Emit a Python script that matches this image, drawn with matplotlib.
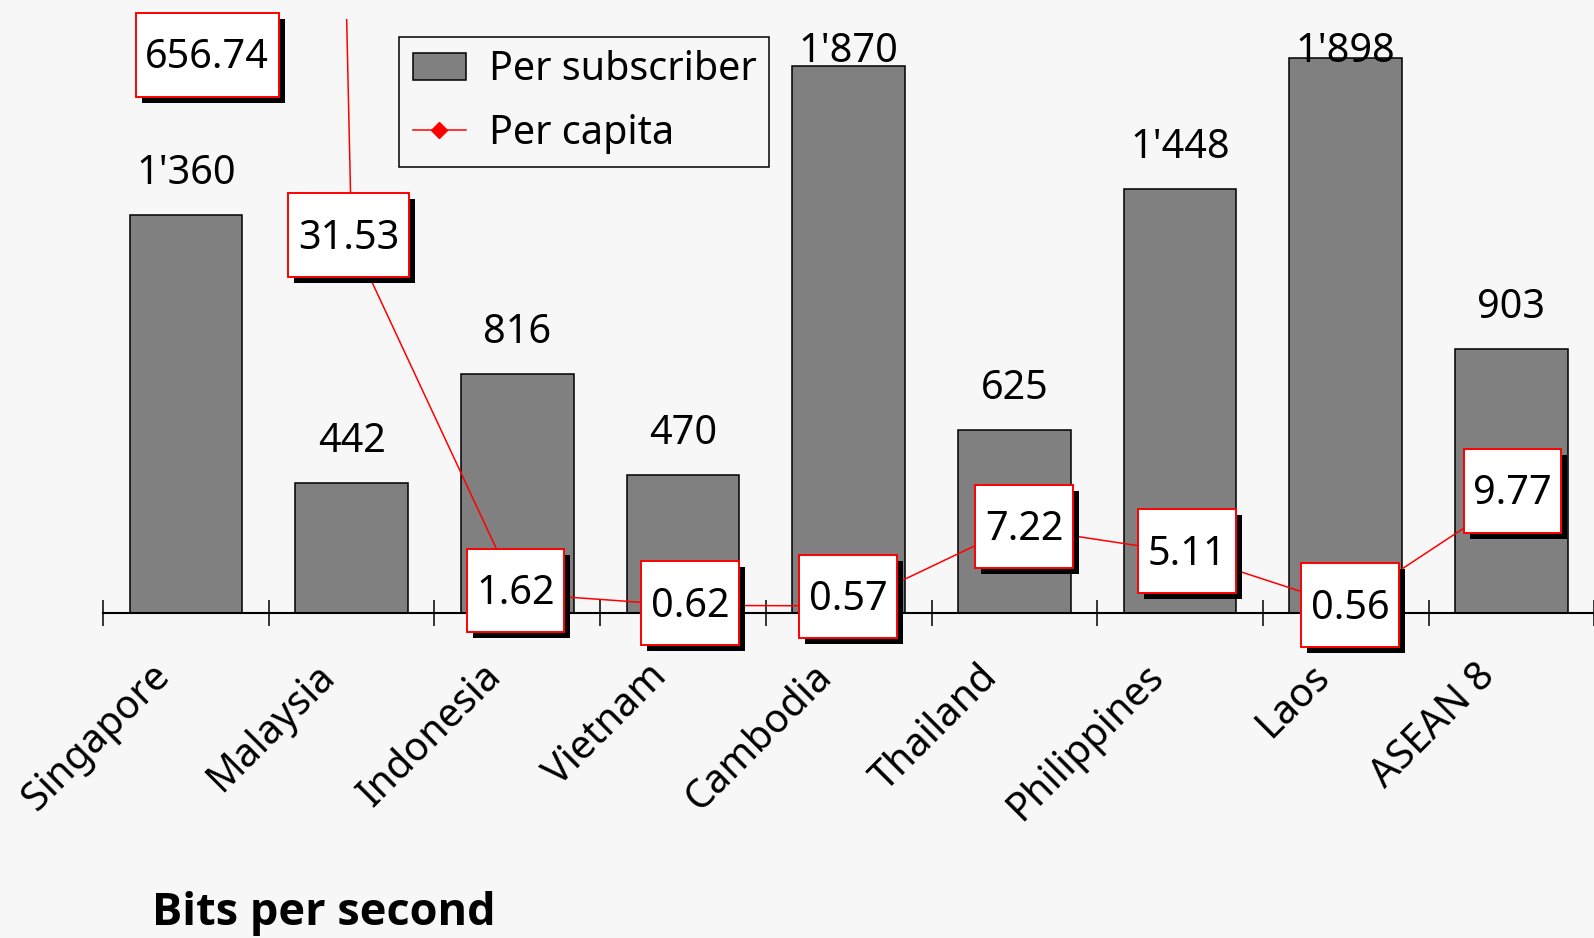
import numpy as np
import matplotlib
matplotlib.use("Agg")
import matplotlib.pyplot as plt
import matplotlib.transforms as mtransforms
import matplotlib.patheffects as pe
from matplotlib.path import Path
from matplotlib.lines import Line2D
from matplotlib.patches import Patch

# Data
countries = ["Singapore", "Malaysia", "Indonesia", "Vietnam", "Cambodia",
             "Thailand", "Philippines", "Laos", "ASEAN 8"]
per_subscriber = [1360, 442, 816, 470, 1870, 625, 1448, 1898, 903]
per_capita = [656.74, 31.53, 1.62, 0.62, 0.57, 7.22, 5.11, 0.56, 9.77]

BG = "#f7f7f7"
FS = 28.5
DPI = 100
W, H = 1594, 938

plt.rcParams["font.family"] = ["Noto Sans", "DejaVu Sans"]

fig = plt.figure(figsize=(W / DPI, H / DPI), dpi=DPI, facecolor=BG)

# axes geometry in pixels
ax_left, ax_bottom_px, ax_top_px, slot = 103, 612.7, 19, 165.7
n = len(countries)
ax = fig.add_axes([ax_left / W, 1 - ax_bottom_px / H,
                   n * slot / W, (ax_bottom_px - ax_top_px) / H])
ax.set_facecolor("none")

x = np.arange(n)
ax.bar(x, per_subscriber, width=0.68, color="#808080",
       edgecolor="black", linewidth=1.1, zorder=2)
ax.set_xlim(-0.5, n - 0.5)
ax.set_ylim(0, 2030)
for s in ["left", "right", "top"]:
    ax.spines[s].set_visible(False)
ax.spines["bottom"].set_linewidth(1.5)
ax.set_yticks([])

# category labels
ax.set_xticks(x)
ax.set_xticklabels(countries, rotation=45, ha="right", va="center",
                   rotation_mode="anchor", fontsize=FS)
ax.tick_params(axis="x", which="major", length=0, pad=42)
shift = mtransforms.ScaledTranslation(-22 / DPI, 0, fig.dpi_scale_trans)
for lab in ax.get_xticklabels():
    lab.set_transform(lab.get_transform() + shift)
ax.set_xticks(np.arange(-0.5, n), minor=True)
ax.tick_params(axis="x", which="minor", direction="inout", length=18.7,
               width=1.1, color="black")

# value labels above bars (kept inside the plot area)
for xi, v in zip(x, per_subscriber):
    txt = f"{v:,}".replace(",", "'")
    ax.text(xi, min(v + 106, 1883), txt, ha="center", va="baseline",
            fontsize=FS, zorder=3)

# per-capita line on the secondary axis
ax2 = ax.twinx()
ax2.set_ylim(0, 50)
for s in ax2.spines.values():
    s.set_visible(False)
ax2.set_yticks([])
ax2.plot(x, per_capita, color="red", lw=1.1, marker="D", ms=7, zorder=2)


def label_box(x0, y0, width, height, mutation_size):
    padx = 0.24 * mutation_size
    hh = 2.12 * mutation_size
    cy = y0 + 0.6 * mutation_size
    l, r = x0 - padx, x0 + width + padx
    b, t = cy - hh / 2, cy + hh / 2
    return Path([(l, b), (r, b), (r, t), (l, t), (l, b)], closed=True)


def px(v):
    return v * 72 / DPI


# hand placement of the value boxes (pixels: right, up)
nudges = {2: (1, 0), 3: (10, -0.7), 4: (2.3, 6.5), 5: (12.6, -2.5),
          6: (10, -2), 7: (7.4, -2), 8: (4, 3)}
for i, v in enumerate(per_capita):
    ylo, yhi = ax2.get_ylim()
    if v > yhi:
        xy, off = (i, yhi), (px(21.4), px(-39.3))
    else:
        dx, dy = nudges.get(i, (0, 0))
        xy, off = (i, v), (px(-3 + dx), px(-0.8 + dy))
    t = ax2.annotate(f"{v:.2f}", xy=xy, xytext=off, textcoords="offset points",
                     ha="center", va="center", fontsize=FS, zorder=5,
                     annotation_clip=False,
                     bbox=dict(boxstyle=label_box, facecolor="white",
                               edgecolor="red", linewidth=1.4))
    t.get_bbox_patch().set_path_effects([
        pe.SimplePatchShadow(offset=(px(6), px(-6)), shadow_rgbFace="black",
                             alpha=1.0),
        pe.Normal()])

# legend
handles = [Patch(facecolor="#808080", edgecolor="black", linewidth=1.1),
           Line2D([], [], color="red", lw=1.1, marker="D", ms=8)]
leg = fig.legend(handles, ["Per subscriber", "Per capita"],
                 loc="upper left", bbox_to_anchor=(399.5 / W, 1 - 37 / H),
                 borderaxespad=0, fontsize=FS, frameon=True, fancybox=False,
                 facecolor=BG, edgecolor="black", framealpha=1,
                 handlelength=1.34, handleheight=0.66, handletextpad=0.58,
                 borderpad=0.33, labelspacing=0.6)
leg.get_frame().set_linewidth(1.1)

fig.text(152.5 / W, 1 - 925 / H, "Bits per second", fontsize=32.5,
         fontweight="bold", family=["Open Sans", "Lato", "DejaVu Sans"],
         ha="left", va="baseline")

fig.savefig("out.png", dpi=DPI, facecolor=BG)
